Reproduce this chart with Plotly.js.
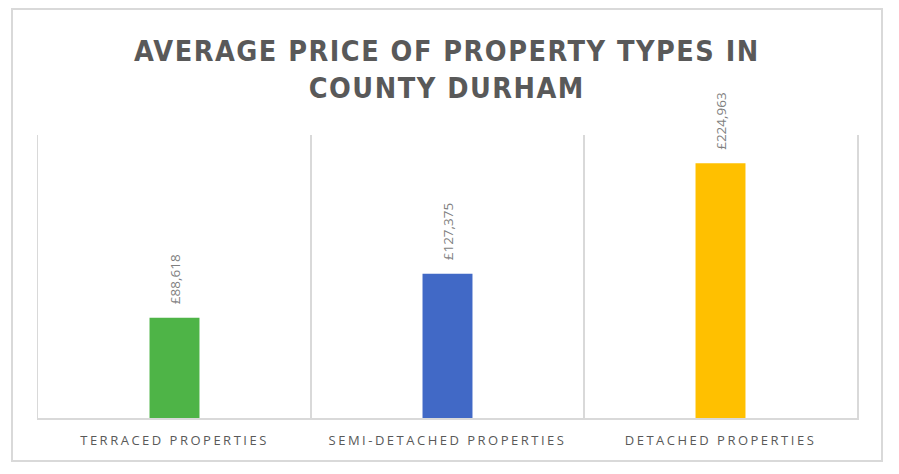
<!DOCTYPE html>
<html>
<head>
<meta charset="utf-8">
<script src="https://cdn.plot.ly/plotly-3.0.1.min.js"></script>
<style>
  html, body { margin: 0; padding: 0; background: #fff; }
  #wrap { position: relative; width: 899px; height: 474px; }
  #chart { position: absolute; left: 0; top: 0; width: 899px; height: 474px; }
  #frame { position: absolute; left: 11px; top: 8px; width: 872px; height: 454px;
           border: 2px solid #d9d9d9; box-sizing: border-box; pointer-events: none; }
  .gtitle { letter-spacing: 1.5px; }
  .xtick text { letter-spacing: 2.5px; }
</style>
</head>
<body>
<div id="wrap">
  <div id="chart"></div>
  <div id="frame"></div>
</div>
<script>
const categories = ["TERRACED PROPERTIES", "SEMI-DETACHED PROPERTIES", "DETACHED PROPERTIES"];
const prices = [88618, 127375, 224963];
const barColors = ["#4eb447", "#4169c6", "#ffc000"];
const priceLabels = ["£88,618", "£127,375", "£224,963"];
const titleText = "AVERAGE PRICE OF PROPERTY TYPES IN<br>COUNTY DURHAM";

const trace = {
  type: "bar",
  x: categories,
  y: prices,
  marker: { color: barColors },
  text: priceLabels.map(s => "\u00a0\u00a0\u00a0" + s),
  textposition: "outside",
  textangle: -90,
  constraintext: "none",
  cliponaxis: false,
  textfont: { family: "Open Sans, sans-serif", size: 13.5, color: "#7f7f7f" },
  hoverinfo: "none"
};

// invisible helper trace on a right-side axis so the right plot border is drawn
const helper = {
  type: "scatter",
  x: [categories[0]],
  y: [0],
  yaxis: "y2",
  mode: "markers",
  marker: { opacity: 0 },
  hoverinfo: "none",
  showlegend: false
};

const layout = {
  width: 899,
  height: 474,
  margin: { l: 38, r: 42, t: 135, b: 56 },
  paper_bgcolor: "#ffffff",
  plot_bgcolor: "#ffffff",
  bargap: 0.817,
  showlegend: false,
  title: {
    text: titleText,
    x: 0.497,
    xanchor: "center",
    y: 0.872,
    yanchor: "top",
    font: { family: "DejaVu Sans Condensed, DejaVu Sans, sans-serif", size: 28.5, color: "#595959", weight: 700 }
  },
  xaxis: {
    type: "category",
    tickson: "boundaries",
    showgrid: true,
    gridcolor: "#d9d9d9",
    gridwidth: 1.5,
    showline: true,
    linecolor: "#d9d9d9",
    linewidth: 1.5,
    ticks: "",
    ticklabelstandoff: 10,
    tickfont: { family: "Open Sans, sans-serif", size: 13, color: "#595959" },
    fixedrange: true
  },
  yaxis: {
    range: [0, 250000],
    showgrid: false,
    zeroline: false,
    showticklabels: false,
    showline: true,
    linecolor: "#d9d9d9",
    linewidth: 1.5,
    ticks: "",
    fixedrange: true
  },
  yaxis2: {
    overlaying: "y",
    side: "right",
    range: [0, 250000],
    showgrid: false,
    zeroline: false,
    showticklabels: false,
    showline: true,
    linecolor: "#d9d9d9",
    linewidth: 1.5,
    ticks: "",
    fixedrange: true
  }
};

Plotly.newPlot("chart", [trace, helper], layout, { displayModeBar: false, staticPlot: true });
</script>
</body>
</html>
